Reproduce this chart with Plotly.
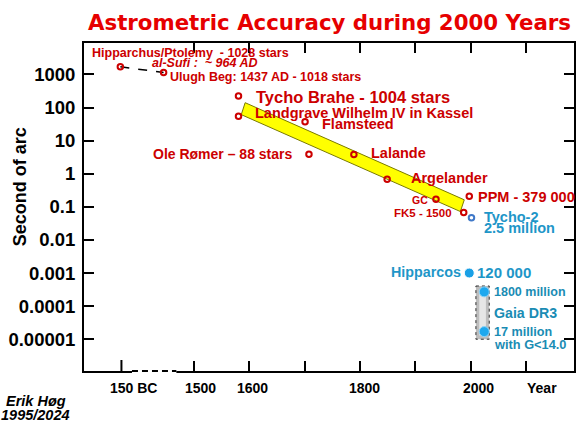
import math
import plotly.graph_objects as go

# ---------------- data ----------------
# historic catalogues (red open circles): year, accuracy in arcsec
red_names = ["Hipparchus", "Ulugh Beg", "Tycho Brahe", "Landgrave", "Flamsteed",
             "Ole Rømer", "Lalande", "Argelander", "GC", "PPM", "FK5"]
red_years = [1368, 1446, 1581, 1581, 1701, 1708, 1789, 1849, 1937, 1997, 1987]
red_arcsec = [1700, 1150, 225, 55, 37, 3.9, 3.8, 0.68, 0.17, 0.21, 0.068]

ancient_years = [1368, 1446]
ancient_arcsec = [1700, 1150]

tycho2_years = [2001]
tycho2_arcsec = [0.047]

hipparcos_years = [1997]
hipparcos_arcsec = [0.001]

gaia_years = [2024, 2024]
gaia_arcsec = [0.00027, 1.7e-5]

gaia_box_years = [2009, 2033, 2033, 2009, 2009]
gaia_box_arcsec = [4.06e-4, 4.06e-4, 1e-5, 1e-5, 4.06e-4]
gaia_glow_years = [2015, 2027, 2027, 2015, 2015]
gaia_glow_arcsec = [3.2e-4, 3.2e-4, 1.3e-5, 1.3e-5, 3.2e-4]

band_years = [1593, 1988, 1981, 1586, 1593]
band_arcsec = [140, 0.163, 0.072, 61, 140]

y_tick_vals = [1000, 100, 10, 1, 0.1, 0.01, 0.001, 0.0001, 0.00001]
y_tick_text = ["1000", "100", "10", "1", "0.1", "0.01", "0.001", "0.0001", "0.00001"]
bc_tick_year = 1370
bc_tick_text = "150 BC"
x_tick_years = [1500, 1600, 1700, 1800, 1900, 2000, 2100]
x_tick_text = ["1500", "1600", "", "1800", "", "2000", "Year"]
x_label_shift = [7, 3, 0, 5, 0, 8, 16]
axis_break_years = [1389, 1469]

# ---------------- style ----------------
FONT = "Liberation Sans, Arial, sans-serif"
RED = "#CC0000"
BLUE = "#1E96C8"
TEAL = "#1A8CB4"
X_RANGE = [1302.5, 2185.8]
Y_RANGE = [-5.96, 3.95]

fig = go.Figure()

# yellow trend band
fig.add_trace(go.Scatter(x=band_years, y=band_arcsec, mode="lines", fill="toself",
                         fillcolor="#FFFF00", line=dict(color="#7A7A00", width=1),
                         hoverinfo="skip", showlegend=False))
# Gaia box
fig.add_trace(go.Scatter(x=gaia_box_years, y=gaia_box_arcsec, mode="lines", fill="toself",
                         fillcolor="#BDBDBD", line=dict(color="#333333", width=1, dash="dot"),
                         hoverinfo="skip", showlegend=False))
fig.add_trace(go.Scatter(x=gaia_glow_years, y=gaia_glow_arcsec,
                         mode="lines", fill="toself", fillcolor="#E6E6E6",
                         line=dict(width=0), hoverinfo="skip", showlegend=False))
# dashed connection Hipparchus - Ulugh Beg
fig.add_trace(go.Scatter(x=ancient_years, y=ancient_arcsec, mode="lines",
                         line=dict(color="black", width=1.5, dash="dash"),
                         hoverinfo="skip", showlegend=False))
# red catalogues
fig.add_trace(go.Scatter(x=red_years, y=red_arcsec, mode="markers", text=red_names,
                         marker=dict(symbol="circle-open", size=5.5, color=RED,
                                     line=dict(color=RED, width=2)),
                         showlegend=False))
# Tycho-2
fig.add_trace(go.Scatter(x=tycho2_years, y=tycho2_arcsec, mode="markers",
                         marker=dict(symbol="circle-open", size=5.5, color="#3F78C8",
                                     line=dict(color="#3F78C8", width=2)),
                         showlegend=False))
# Hipparcos
fig.add_trace(go.Scatter(x=hipparcos_years, y=hipparcos_arcsec, mode="markers",
                         marker=dict(symbol="circle", size=10, color="#19A0E6",
                                     line=dict(color="white", width=1)),
                         showlegend=False))
# Gaia
fig.add_trace(go.Scatter(x=gaia_years, y=gaia_arcsec, mode="markers",
                         marker=dict(symbol="circle", size=10, color="#1EA8EE",
                                     line=dict(color="#8FD3F5", width=1)),
                         showlegend=False))


def ann(text, x, y, anchor="left", size=14.5, color=RED, italic=False):
    return dict(text=text, x=x, y=math.log10(y), xref="x", yref="y",
                xanchor=anchor, yanchor="middle", showarrow=False, borderpad=0,
                font=dict(family=FONT, size=size, color=color, weight="bold",
                          style="italic" if italic else "normal"))


annotations = [
    ann("Hipparchus/Ptolemy\u00a0\u00a0- 1028 stars", 1314.5, 4487, size=12.5),
    ann("al-Sufi :\u00a0\u00a0~ 964 AD", 1423.5, 2148, size=12.5, italic=True),
    ann("Ulugh Beg: 1437 AD - 1018 stars", 1456, 859, size=12.5),
    ann("Tycho Brahe - 1004 stars", 1610, 211, size=16.5),
    ann("Landgrave Wilhelm IV in Kassel", 1609.5, 70.3, size=14.5),
    ann("Flamsteed", 1729, 31, size=14.5),
    ann("Ole Rømer – 88 stars", 1681, 3.93, anchor="right", size=14),
    ann("Lalande", 1817.4, 4.12, size=14.5),
    ann("Argelander", 1889.6, 0.755, size=14.5),
    ann("GC", 1923.7, 0.160, anchor="right", size=10.5),
    ann("PPM - 379 000", 2010.4, 0.202, size=14.5),
    ann("FK5 - 1500", 1966.8, 0.0637, anchor="right", size=11.5),
    ann("Tycho-2", 2022.4, 0.0482, size=14.5, color=BLUE),
    ann("2.5 million", 2022.4, 0.0224, size=14.5, color=BLUE),
    ann("Hipparcos", 1983.5, 0.00105, anchor="right", size=14.3, color=BLUE),
    ann("120 000", 2008.6, 0.00103, size=15, color=BLUE),
    ann("1800 million", 2040.4, 2.68e-4, size=12.5, color=TEAL),
    ann("Gaia DR3", 2040.4, 6.35e-5, size=14.2, color=TEAL),
    ann("17 million", 2040.4, 1.69e-5, size=12.6, color=TEAL),
    ann("with G&lt;14.0", 2040.4, 7.06e-6, size=12.8, color=TEAL),
]


def xlabel(txt, yr, sh):
    return dict(text=txt, x=yr, xref="x", y=0, yref="paper", xshift=sh,
                yshift=-17, xanchor="center", yanchor="middle",
                showarrow=False, borderpad=0,
                font=dict(family=FONT, size=14, color="black", weight="bold"))


annotations.append(xlabel(bc_tick_text, bc_tick_year, 12))
for yr, txt, sh in zip(x_tick_years, x_tick_text, x_label_shift):
    if txt:
        annotations.append(xlabel(txt, yr, sh))

# title, axis title, credit
annotations.append(dict(text="Astrometric Accuracy during 2000 Years", x=0.5, y=1.064,
                        xref="paper", yref="paper", xanchor="center", yanchor="middle",
                        showarrow=False, borderpad=0,
                        font=dict(family="DejaVu Sans, sans-serif", size=21.3,
                                  color="#E60000", weight="bold")))
annotations.append(dict(text="Second of arc", x=-0.130, y=0.561, xref="paper", yref="paper",
                        textangle=-90, xanchor="center", yanchor="middle", showarrow=False,
                        font=dict(family=FONT, size=18, color="black", weight="bold")))
annotations.append(dict(text="Erik Høg", x=-0.0976, y=-0.0915, xref="paper", yref="paper",
                        xanchor="center", yanchor="middle", showarrow=False,
                        font=dict(family=FONT, size=14.5, color="black", weight="bold",
                                  style="italic")))
annotations.append(dict(text="1995/2024", x=-0.0996, y=-0.134, xref="paper", yref="paper",
                        xanchor="center", yanchor="middle", showarrow=False,
                        font=dict(family=FONT, size=14.5, color="black", weight="bold",
                                  style="italic")))

# bottom-only 150 BC tick, and the dashed break of the bottom axis line
shapes = [
    dict(type="line", xref="x", yref="paper", x0=bc_tick_year, x1=bc_tick_year,
         ysizemode="pixel", yanchor=0, y0=0, y1=11, line=dict(color="black", width=2)),
    dict(type="line", xref="x", yref="paper", x0=axis_break_years[0], x1=axis_break_years[1],
         y0=0, y1=0, line=dict(color="white", width=4)),
    dict(type="line", xref="x", yref="paper", x0=axis_break_years[0], x1=axis_break_years[1],
         y0=0, y1=0, line=dict(color="black", width=2, dash="6px,4px")),
]

fig.update_layout(
    width=576, height=421,
    margin=dict(l=84, r=0, t=43, b=50),
    paper_bgcolor="white", plot_bgcolor="white",
    showlegend=False,
    annotations=annotations,
    shapes=shapes,
    xaxis=dict(range=X_RANGE, showgrid=False, zeroline=False, showline=True, linewidth=2,
               linecolor="black", mirror="ticks",
               tickmode="array", tickvals=x_tick_years, ticks="inside", ticklen=10,
               tickwidth=2, tickcolor="black", showticklabels=False),
    yaxis=dict(type="log", range=Y_RANGE, showgrid=False, zeroline=False, showline=True,
               linewidth=2, linecolor="black", mirror="ticks", tickmode="array",
               tickvals=y_tick_vals, ticktext=y_tick_text, ticks="inside", ticklen=10,
               tickwidth=2, tickcolor="black", ticklabelstandoff=3,
               tickfont=dict(family=FONT, size=18.5, color="black", weight="bold")),
)

fig.write_html("out.html", config={"displayModeBar": False},
               post_script="document.body.style.margin='0';document.body.style.overflow='hidden';")
